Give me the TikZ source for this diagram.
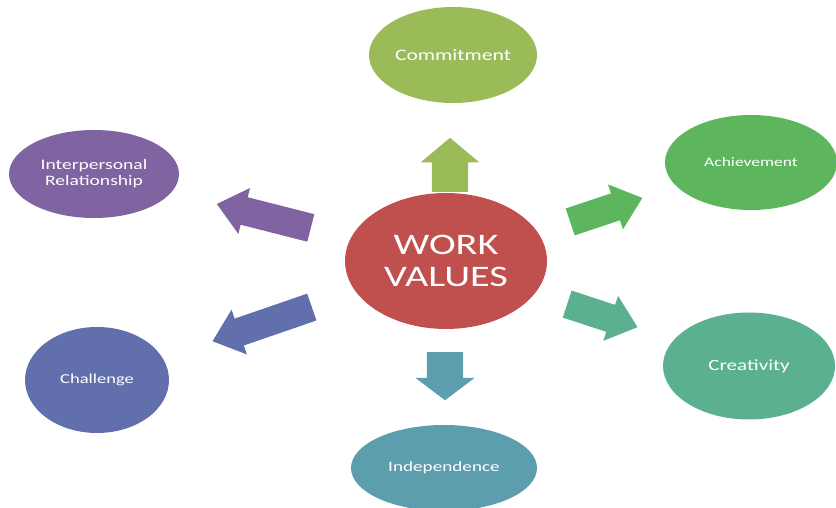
\documentclass[tikz,border=0pt]{standalone}
\usepackage{fontspec}
\setmainfont{Carlito}[FakeStretch=1.35]
\usetikzlibrary{shapes.arrows,shapes.geometric}

\definecolor{valred}{HTML}{C0504D}
\definecolor{commitgreen}{HTML}{9BBB59}
\definecolor{achievegreen}{HTML}{5DB65E}
\definecolor{creategreen}{HTML}{5BB08F}
\definecolor{indepblue}{HTML}{5C9EAE}
\definecolor{challblue}{HTML}{6170AC}
\definecolor{interpurple}{HTML}{8064A2}

\begin{document}
\begin{tikzpicture}[x=1pt, y=1pt,
  value/.style={ellipse, inner sep=0pt, text=white, align=center},
  bigarrow/.style={single arrow, draw=none, inner xsep=0pt, inner ysep=18pt, anchor=tail,
    single arrow head extend=11pt, single arrow tip angle=100},
  slantarrow/.style={single arrow, draw=none, inner xsep=0pt, inner ysep=14pt, anchor=tail,
    single arrow head extend=9.5pt, single arrow tip angle=80}]
  \useasboundingbox (0,0) rectangle (836,508);
  % hub
  \node[value, fill=valred, minimum width=202pt, minimum height=136pt,
    font=\fontsize{29.8}{32}\selectfont] (work) at (446,247) {WORK\\VALUES};
  % values around the hub
  \node[value, fill=commitgreen, minimum width=168pt, minimum height=96pt,
    font=\fontsize{16}{18}\selectfont] (commit) at (453,453) {Commitment};
  \node[value, fill=achievegreen, minimum width=172pt, minimum height=95pt,
    font=\fontsize{13}{16}\selectfont] (achieve) at (751,345.5) {Achievement};
  \node[value, fill=creategreen, minimum width=172pt, minimum height=107pt,
    font=\fontsize{15.6}{18}\selectfont] (create) at (749,142) {Creativity};
  \node[value, fill=indepblue, minimum width=186pt, minimum height=86pt,
    font=\fontsize{14.2}{17}\selectfont] (indep) at (444,40) {Independence};
  \node[value, fill=challblue, minimum width=144pt, minimum height=106pt,
    font=\fontsize{13.7}{17}\selectfont] (chall) at (97,128) {Challenge};
  \node[value, fill=interpurple, minimum width=170pt, minimum height=88pt,
    font=\fontsize{14.5}{16}\selectfont] (inter) at (94,334) {Interpersonal\\Relationship};
  % arrows
  \node[bigarrow, fill=commitgreen, minimum height=54pt, rotate=90] (tocommit) at (450,316) {};
  \node[bigarrow, fill=indepblue, minimum height=48pt, rotate=-90,
    single arrow head extend=11.5pt, single arrow tip angle=106] (toindep) at (445,156) {};
  \node[slantarrow, fill=achievegreen, minimum height=76pt, rotate=18.4] (toachieve) at (570,286) {};
  \node[slantarrow, fill=creategreen, minimum height=74pt, rotate=-18.2] (tocreate) at (567,204) {};
  \node[slantarrow, fill=challblue, minimum height=105pt, rotate=199] (tochall) at (312,201) {};
  \node[slantarrow, fill=interpurple, minimum height=97pt, rotate=165.7] (tointer) at (311,280) {};
\end{tikzpicture}
\end{document}
